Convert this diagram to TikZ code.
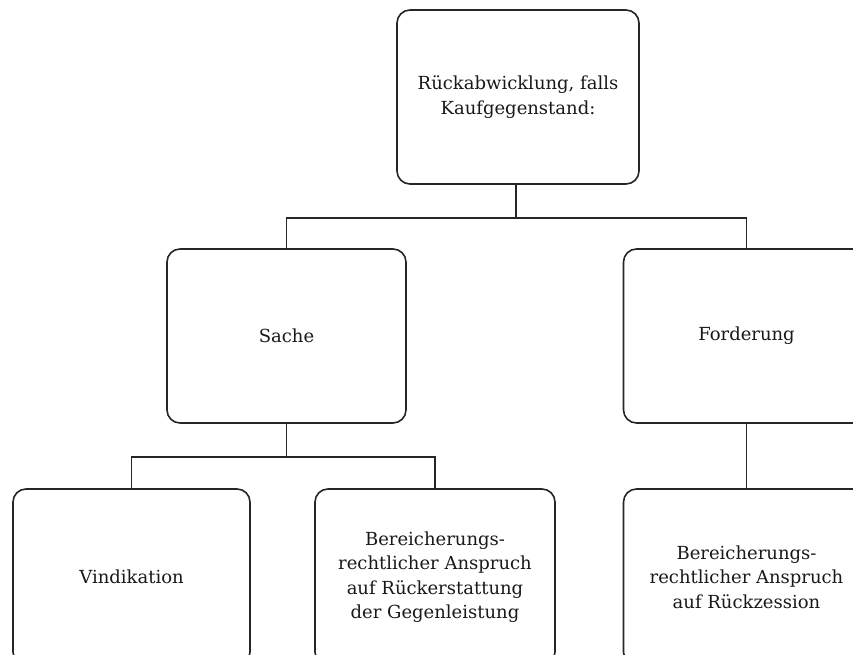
\documentclass[tikz,border=0pt]{standalone}
\usepackage{fontspec}
\setmainfont{DejaVu Serif}
\begin{document}
\begin{tikzpicture}[x=1pt,y=-1pt,
  box/.style={draw=black!85, line width=1.6pt, rounded corners=13pt, align=center,
    inner sep=0pt, font=\fontsize{18}{24.5}\selectfont, text=black!90},
  link/.style={draw=black!85, line width=1.6pt}]
\useasboundingbox (0,0) rectangle (853,655);
\clip (0,0) rectangle (853,655);
\node[box, minimum width=242pt, minimum height=174pt] (top) at (518,97)
  {Rückabwicklung, falls\\Kaufgegenstand:};
\node[box, minimum width=239pt, minimum height=174pt] (sache) at (286.5,336) {Sache};
\node[box, minimum width=246pt, minimum height=174pt] (ford) at (746.5,336) {Forderung};
\node[box, minimum width=237pt, minimum height=176pt] (vind) at (131.5,577) {Vindikation};
\node[box, minimum width=240pt, minimum height=176pt] (ber1) at (435,577)
  {Bereicherungs-\\rechtlicher Anspruch\\auf Rückerstattung\\der Gegenleistung};
\node[box, minimum width=246pt, minimum height=176pt] (ber2) at (746.5,577)
  {Bereicherungs-\\rechtlicher Anspruch\\auf Rückzession};
\coordinate (j1) at (516,218);
\coordinate (j2) at (286.5,457);
\draw[link] ([xshift=-2pt]top.south) -- (j1);
\draw[link] (j1) -| (sache.north);
\draw[link] (j1) -| (ford.north);
\draw[link] (sache.south) -- (j2);
\draw[link] (j2) -| (vind.north);
\draw[link] (j2) -| (ber1.north);
\draw[link] (ford.south) -- (ber2.north);
\end{tikzpicture}
\end{document}
